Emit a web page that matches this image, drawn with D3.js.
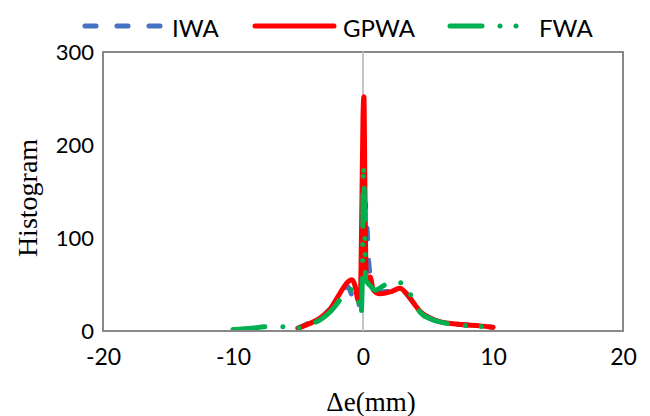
<!DOCTYPE html>
<html>
<head>
<meta charset="utf-8">
<script src="https://cdn.jsdelivr.net/npm/d3@7"></script>
<style>
  html, body { margin: 0; padding: 0; background: #fff; }
  svg { display: block; }
</style>
</head>
<body>
<svg id="chart" width="650" height="416"></svg>
<script>
// Error distribution (Δe in mm) for the three weighting approaches
const seriesNames = ["IWA", "GPWA", "FWA"];

const iwaX = [-5.0, -4.1, -3.3, -2.5, -1.8, -1.2, -0.9, -0.6, -0.4, -0.2, 0.0, 0.15, 0.25, 0.35, 0.45, 0.6, 0.8, 1.3, 2.1, 2.85, 3.35, 3.9, 4.4, 5.15, 5.9, 7.5, 9.0, 10.0];
const iwaY = [3, 9, 15, 24, 38, 48, 40, 26, 24, 40, 90, 138, 125, 100, 72, 58, 50, 42, 43, 47, 40, 30, 21, 14, 10, 7, 5.5, 4];

const gpwaX = [-5.0, -4.1, -3.3, -2.5, -1.8, -1.15, -0.85, -0.6, -0.38, -0.22, -0.1, 0.0, 0.07, 0.15, 0.25, 0.4, 0.55, 0.8, 1.3, 2.1, 2.85, 3.35, 3.9, 4.4, 5.15, 5.9, 7.5, 9.0, 10.0];
const gpwaY = [3, 8, 14, 24, 40, 53, 55, 48, 33, 31, 120, 230, 252, 150, 56, 55, 58, 44, 40, 42, 46, 40, 30, 21, 14, 10, 7, 5.5, 4];

const fwaX = [-10.0, -8.6, -7.4, -6.0, -5.0, -4.1, -3.3, -2.5, -1.7, -1.2, -0.75, -0.4, -0.15, -0.05, 0.03, 0.1, 0.2, 0.35, 0.6, 0.95, 1.5, 2.2, 2.9, 3.4, 3.9, 4.4, 5.2, 6.0, 7.5, 9.0, 10.0];
const fwaY = [1.5, 3, 4.5, 4.5, 3.5, 7, 12, 21, 35, 45, 44, 36, 17, 60, 178, 150, 55, 52, 48, 44, 48, 54, 52, 46, 32, 20, 13, 9.5, 6.5, 5, 4];

const xTicks = [-20, -10, 0, 10, 20];
const yTicks = [0, 100, 200, 300];

const svg = d3.select("#chart");
const plot = { left: 103, right: 623, top: 52, bottom: 331 };

const x = d3.scaleLinear().domain([-20, 20]).range([plot.left, plot.right]);
const y = d3.scaleLinear().domain([0, 300]).range([plot.bottom, plot.top]);

const tickFont = "Lato, 'Open Sans', sans-serif";
const titleFont = "'Liberation Serif', 'DejaVu Serif', serif";
const plainNumber = d => String(d);

// Plot frame
svg.append("rect")
  .attr("x", plot.left).attr("y", plot.top)
  .attr("width", plot.right - plot.left).attr("height", plot.bottom - plot.top)
  .attr("fill", "none").attr("stroke", "#898989").attr("stroke-width", 2);

// Vertical axis line crossing at Δe = 0
svg.append("line")
  .attr("x1", x(0)).attr("x2", x(0))
  .attr("y1", plot.top).attr("y2", plot.bottom)
  .attr("stroke", "#c4c4c4").attr("stroke-width", 2);

// Y axis labels
const yAxis = d3.axisLeft(y).tickValues(yTicks).tickFormat(plainNumber).tickSize(0).tickPadding(9);
svg.append("g").attr("transform", `translate(${plot.left},0)`).call(yAxis)
  .call(g => g.select(".domain").remove())
  .selectAll("text")
  .attr("font-family", tickFont).attr("font-size", 22).attr("fill", "#000");

// X axis labels
const xAxis = d3.axisBottom(x).tickValues(xTicks).tickFormat(plainNumber).tickSize(0).tickPadding(18);
svg.append("g").attr("transform", `translate(0,${plot.bottom})`).call(xAxis)
  .call(g => g.select(".domain").remove())
  .selectAll("text")
  .attr("font-family", tickFont).attr("font-size", 23).attr("fill", "#000");

// Axis titles
svg.append("text")
  .attr("x", x(0) + 8).attr("y", 411)
  .attr("text-anchor", "middle")
  .attr("font-family", titleFont).attr("font-size", 27)
  .text("Δe(mm)");

svg.append("text")
  .attr("transform", "translate(37,198) rotate(-90)")
  .attr("text-anchor", "middle")
  .attr("font-family", titleFont).attr("font-size", 28)
  .text("Histogram");

// Series styles
const styles = {
  IWA:  { color: "#4472c4", dash: "11,21" },
  GPWA: { color: "#ff0000", dash: null },
  FWA:  { color: "#00b050", dash: "32,18,0,16,0,18" }
};

const seriesData = [
  { name: "IWA",  pts: iwaX.map((v, i) => [v, iwaY[i]]) },
  { name: "GPWA", pts: gpwaX.map((v, i) => [v, gpwaY[i]]) },
  { name: "FWA",  pts: fwaX.map((v, i) => [v, fwaY[i]]) }
];

const line = d3.line()
  .x(d => x(d[0])).y(d => y(d[1]))
  .curve(d3.curveMonotoneX);

const clipId = "plotClip";
svg.append("clipPath").attr("id", clipId)
  .append("rect")
  .attr("x", plot.left).attr("y", plot.top - 5)
  .attr("width", plot.right - plot.left).attr("height", plot.bottom - plot.top + 4);

svg.append("g").attr("clip-path", `url(#${clipId})`)
  .selectAll("path")
  .data(seriesData)
  .join("path")
  .attr("d", d => line(d.pts))
  .attr("fill", "none")
  .attr("stroke", d => styles[d.name].color)
  .attr("stroke-width", 5)
  .attr("stroke-linecap", "round")
  .attr("stroke-linejoin", "round")
  .attr("stroke-dasharray", d => styles[d.name].dash);

// Legend
const legendItems = [
  { name: "IWA",  x1: 85,  x2: 165, tx: 172 },
  { name: "GPWA", x1: 255, x2: 334, tx: 343 },
  { name: "FWA",  x1: 450, x2: 522, tx: 539 }
];
const legendY = 26;
const legend = svg.append("g");
legendItems.forEach(it => {
  legend.append("line")
    .attr("x1", it.x1).attr("x2", it.x2)
    .attr("y1", legendY).attr("y2", legendY)
    .attr("stroke", styles[it.name].color)
    .attr("stroke-width", 5)
    .attr("stroke-linecap", "round")
    .attr("stroke-dasharray", styles[it.name].dash);
  legend.append("text")
    .attr("x", it.tx).attr("y", legendY + 1)
    .attr("dominant-baseline", "central")
    .attr("font-family", tickFont).attr("font-size", 24)
    .text(it.name);
});
</script>
</body>
</html>
